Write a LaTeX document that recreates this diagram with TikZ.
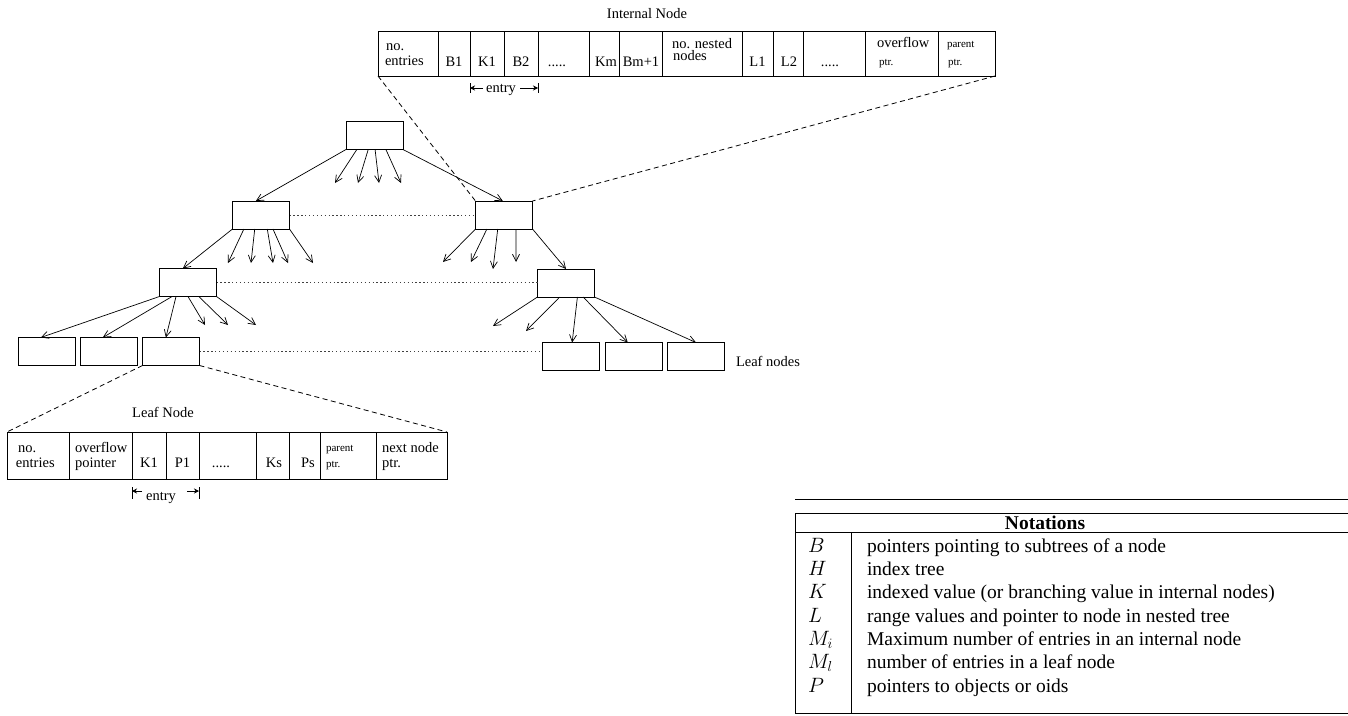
\documentclass[tikz,border=0pt]{standalone}
\usepackage{fontspec}
\setmainfont{Liberation Serif}
\usetikzlibrary{arrows.meta,calc}
% points along the bottom / top edge of a box, as a fraction of its width
\newcommand{\bpt}[2]{($(#1.south west)!#2!(#1.south east)$)}
\newcommand{\tpt}[2]{($(#1.north west)!#2!(#1.north east)$)}
\begin{document}
\begin{tikzpicture}[x=1pt,y=-1pt,
  every node/.style={inner sep=0pt,outer sep=0pt},
  treebox/.style={draw,line width=0.8pt,minimum width=57pt,minimum height=28pt},
  recbox/.style={draw,line width=0.8pt},
  lbl/.style={font=\fontsize{14.5}{15}\selectfont,anchor=base west},
  clbl/.style={font=\fontsize{14.5}{15}\selectfont,anchor=base},
  slbl/.style={font=\fontsize{11}{12}\selectfont,anchor=base west},
  ptr/.style={line width=0.7pt,-{Straight Barb[length=7pt,width=7pt]}},
  link/.style={line width=0.8pt,dash pattern=on 5pt off 3.5pt},
  sib/.style={line width=0.9pt,black!75,dash pattern=on 1.3pt off 2.6pt},
  div/.style={line width=0.8pt},
  span/.style={line width=0.6pt,-{Stealth[length=5pt,width=5pt]}},
  tline/.style={line width=0.7pt},
  ttxt/.style={font=\fontsize{19.5}{23}\selectfont,anchor=base west},
]
\useasboundingbox (0,0) rectangle (1348,715);

% ---------------- internal node layout ----------------
\node[clbl] (i-title) at (647,18) {Internal Node};
\node[recbox,minimum width=617pt,minimum height=45pt] (inode) at (686.5,53.5) {};
\foreach \x in {438,470,504,538,589,619,662,742,773,803,865,938}
  \draw[div] (\x,31) -- (\x,76);
\node[lbl]  (i-no)    at (386,50) {no.};
\node[lbl]  (i-ent)   at (385,65) {entries};
\node[clbl] (i-b1)    at (454,66) {B1};
\node[clbl] (i-k1)    at (487,66) {K1};
\node[clbl] (i-b2)    at (521,66) {B2};
\node[clbl] (i-dots1) at (557,66) {.....};
\node[clbl] (i-km)    at (606,66) {Km};
\node[clbl] (i-bm)    at (641,66) {Bm+1};
\node[lbl]  (i-nn1)   at (672,48) {no. nested};
\node[lbl]  (i-nn2)   at (673,60) {nodes};
\node[clbl] (i-l1)    at (757.5,66) {L1};
\node[clbl] (i-l2)    at (789,66) {L2};
\node[clbl] (i-dots2) at (830,66) {.....};
\node[lbl]  (i-ov)    at (877,47) {overflow};
\node[slbl] (i-ovp)   at (879,65) {ptr.};
\node[slbl] (i-pa)    at (947,47) {parent};
\node[slbl] (i-pap)   at (948,65) {ptr.};
% entry span
\coordinate (i-tl) at (470,88);
\coordinate (i-tr) at (538,88);
\draw[div] ($(i-tl)+(0,-5)$) -- ($(i-tl)+(0,5)$);
\draw[div] ($(i-tr)+(0,-5)$) -- ($(i-tr)+(0,5)$);
\node[clbl] (i-entry) at (501,92.5) {entry};
\draw[span] (483,88) -- (i-tl);
\draw[span] (520,88) -- (i-tr);

% ---------------- leaf node layout ----------------
\node[clbl] (l-title) at (163,417) {Leaf Node};
\node[recbox,minimum width=440pt,minimum height=47pt] (leaf) at (227,455.5) {};
\foreach \x in {69,132,166,199,256,289,320,376}
  \draw[div] (\x,432) -- (\x,479);
\node[lbl]  (l-no)   at (18,452) {no.};
\node[lbl]  (l-ent)  at (16,467.5) {entries};
\node[lbl]  (l-ov)   at (75,452) {overflow};
\node[lbl]  (l-ovp)  at (75,467.5) {pointer};
\node[clbl] (l-k1)   at (149,467) {K1};
\node[clbl] (l-p1)   at (182.5,467) {P1};
\node[clbl] (l-dots) at (221,467) {.....};
\node[clbl] (l-ks)   at (274,467) {Ks};
\node[clbl] (l-ps)   at (308,467) {Ps};
\node[slbl] (l-pa)   at (326,451) {parent};
\node[slbl] (l-pap)  at (326,467) {ptr.};
\node[lbl]  (l-nx)   at (382,452) {next node};
\node[lbl]  (l-nxp)  at (382,467.5) {ptr.};
% entry span
\coordinate (l-tl) at (132,491);
\coordinate (l-tr) at (199,491);
\draw[div] ($(l-tl)+(0,-4)$) -- ($(l-tl)+(0,8)$);
\draw[div] ($(l-tr)+(0,-4)$) -- ($(l-tr)+(0,8)$);
\node[clbl] (l-entry) at (161,500.5) {entry};
\draw[span] (142,491) -- (l-tl);
\draw[span] (187,491) -- (l-tr);

% ---------------- tree ----------------
\node[treebox] (root) at (374.5,135.5) {};
\node[treebox] (l1a)  at (261,215) {};
\node[treebox] (l1b)  at (504,215) {};
\node[treebox] (l2a)  at (188,282.5) {};
\node[treebox] (l2b)  at (566,283) {};
\node[treebox] (la1)  at (46.5,351.5) {};
\node[treebox] (la2)  at (108.5,351.5) {};
\node[treebox] (la3)  at (171,351.5) {};
\node[treebox] (lb1)  at (571,356.5) {};
\node[treebox] (lb2)  at (634,356.5) {};
\node[treebox] (lb3)  at (696,356.5) {};
\node[lbl] (leaflbl) at (736,366) {Leaf nodes};

% loose pointer ends
\coordinate (r1) at (335,183); \coordinate (r2) at (358,183);
\coordinate (r3) at (379,183); \coordinate (r4) at (401,183);
\coordinate (a1) at (228,263); \coordinate (a2) at (251,263);
\coordinate (a3) at (273,263); \coordinate (a4) at (288,263);
\coordinate (a5) at (313,263);
\coordinate (b1) at (443,262); \coordinate (b2) at (471,262);
\coordinate (b3) at (493,269); \coordinate (b4) at (516,262);
\coordinate (c1) at (205,325); \coordinate (c2) at (228,325);
\coordinate (c3) at (256,325);
\coordinate (d1) at (493,326); \coordinate (d2) at (526,331);

% root pointers
\draw[ptr] (root.south west) -- \tpt{l1a}{0.41};
\draw[ptr] \bpt{root}{0.19} -- (r1);
\draw[ptr] \bpt{root}{0.39} -- (r2);
\draw[ptr] \bpt{root}{0.51} -- (r3);
\draw[ptr] \bpt{root}{0.70} -- (r4);
\draw[ptr] (root.south east) -- \tpt{l1b}{0.48};
% left internal node
\draw[ptr] (l1a.south west) -- \tpt{l2a}{0.41};
\draw[ptr] \bpt{l1a}{0.20} -- (a1);
\draw[ptr] \bpt{l1a}{0.39} -- (a2);
\draw[ptr] \bpt{l1a}{0.61} -- (a3);
\draw[ptr] \bpt{l1a}{0.71} -- (a4);
\draw[ptr] (l1a.south east) -- (a5);
% right internal node
\draw[ptr] (l1b.south west) -- (b1);
\draw[ptr] \bpt{l1b}{0.20} -- (b2);
\draw[ptr] \bpt{l1b}{0.39} -- (b3);
\draw[ptr] \bpt{l1b}{0.71} -- (b4);
\draw[ptr] (l1b.south east) -- \tpt{l2b}{0.5};
% lower left node
\draw[ptr] (l2a.south west) -- \tpt{la1}{0.40};
\draw[ptr] \bpt{l2a}{0.22} -- \tpt{la2}{0.40};
\draw[ptr] \bpt{l2a}{0.29} -- \tpt{la3}{0.41};
\draw[ptr] \bpt{l2a}{0.50} -- (c1);
\draw[ptr] \bpt{l2a}{0.69} -- (c2);
\draw[ptr] (l2a.south east) -- (c3);
% lower right node
\draw[ptr] (l2b.south west) -- (d1);
\draw[ptr] \bpt{l2b}{0.39} -- (d2);
\draw[ptr] \bpt{l2b}{0.70} -- \tpt{lb1}{0.52};
\draw[ptr] \bpt{l2b}{0.80} -- \tpt{lb2}{0.39};
\draw[ptr] (l2b.south east) -- \tpt{lb3}{0.5};

% sibling links
\draw[sib] (l1a.east) -- (l1b.west);
\draw[sib] (l2a.east) -- (l2a.east -| l2b.west);
\draw[sib] (la3.east) -- (la3.east -| lb1.west);

% zoom-out guides
\draw[link] (inode.south west) -- (l1b.north west);
\draw[link] (inode.south east) -- (l1b.north east);
\draw[link] (la3.south west) -- (leaf.north west);
\draw[link] (la3.south east) -- (leaf.north east);

% ---------------- notation table ----------------
\draw[tline] (795,499) -- (1348,499);
\draw[tline] (795,513) -- (1348,513);
\draw[tline] (795,532) -- (1348,532);
\draw[tline] (795,713) -- (1348,713);
\draw[tline] (795,513) -- (795,713);
\draw[tline] (851,532) -- (851,713);
\node[font=\fontsize{19.5}{23}\selectfont\bfseries,anchor=base] (t-head) at (1045,529) {Notations};
\node[ttxt] (t-s1) at (808,552)    {$B$};
\node[ttxt] (t-d1) at (867,552)    {pointers pointing to subtrees of a node};
\node[ttxt] (t-s2) at (808,575.3)  {$H$};
\node[ttxt] (t-d2) at (867,575.3)  {index tree};
\node[ttxt] (t-s3) at (808,598.7)  {$K$};
\node[ttxt] (t-d3) at (867,598.7)  {indexed value (or branching value in internal nodes)};
\node[ttxt] (t-s4) at (808,622)    {$L$};
\node[ttxt] (t-d4) at (867,622)    {range values and pointer to node in nested tree};
\node[ttxt] (t-s5) at (808,645.3)  {$M_i$};
\node[ttxt] (t-d5) at (867,645.3)  {Maximum number of entries in an internal node};
\node[ttxt] (t-s6) at (808,668.7)  {$M_l$};
\node[ttxt] (t-d6) at (867,668.7)  {number of entries in a leaf node};
\node[ttxt] (t-s7) at (808,692)    {$P$};
\node[ttxt] (t-d7) at (867,692)    {pointers to objects or oids};
\end{tikzpicture}
\end{document}
